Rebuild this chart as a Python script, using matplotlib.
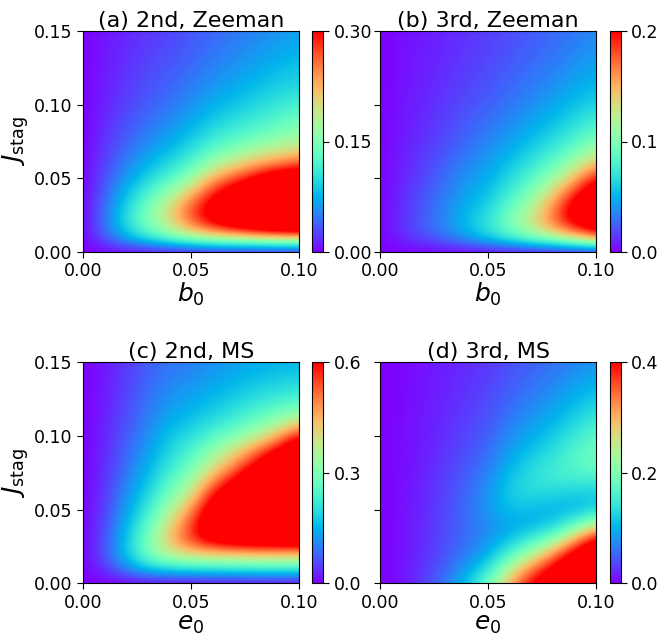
import numpy as np
import matplotlib
matplotlib.use("Agg")
import matplotlib.pyplot as plt

x_vals = np.round(np.arange(0, 0.101, 0.01), 3)   # b0 / e0
j_vals = np.round(np.arange(0, 0.151, 0.01), 3)   # J_stag

# each inner list is one x column, values from J=0 up to J=0.15
zeeman_2nd = [
    [0] * 16,
    [0, 0.035, 0.045, 0.042, 0.036, 0.03, 0.025, 0.021, 0.018, 0.015, 0.013, 0.012, 0.011, 0.01, 0.009, 0.008],
    [0, 0.075, 0.1, 0.095, 0.08, 0.064, 0.051, 0.042, 0.035, 0.03, 0.026, 0.023, 0.02, 0.018, 0.016, 0.015],
    [0, 0.11, 0.15, 0.145, 0.12, 0.095, 0.075, 0.061, 0.051, 0.043, 0.037, 0.032, 0.029, 0.026, 0.023, 0.021],
    [0, 0.14, 0.2, 0.2, 0.165, 0.125, 0.097, 0.078, 0.064, 0.054, 0.046, 0.04, 0.036, 0.032, 0.029, 0.026],
    [0, 0.17, 0.26, 0.27, 0.22, 0.165, 0.125, 0.1, 0.082, 0.069, 0.059, 0.051, 0.045, 0.04, 0.036, 0.033],
    [0, 0.19, 0.31, 0.33, 0.29, 0.23, 0.17, 0.13, 0.105, 0.087, 0.073, 0.063, 0.055, 0.049, 0.044, 0.04],
    [0, 0.2, 0.35, 0.38, 0.34, 0.27, 0.2, 0.15, 0.12, 0.1, 0.085, 0.073, 0.064, 0.057, 0.051, 0.046],
    [0, 0.21, 0.38, 0.42, 0.39, 0.31, 0.23, 0.17, 0.135, 0.112, 0.096, 0.083, 0.073, 0.065, 0.058, 0.052],
    [0, 0.22, 0.41, 0.46, 0.43, 0.35, 0.25, 0.185, 0.15, 0.125, 0.108, 0.094, 0.083, 0.074, 0.066, 0.06],
    [0, 0.22, 0.42, 0.48, 0.47, 0.36, 0.27, 0.2, 0.165, 0.143, 0.12, 0.1, 0.09, 0.08, 0.072, 0.065],
]

zeeman_3rd = [
    [0] * 16,
    [0, 0.01, 0.012, 0.011, 0.01, 0.009, 0.008, 0.007, 0.006, 0.006, 0.005, 0.005, 0.004, 0.004, 0.004, 0.004],
    [0, 0.02, 0.024, 0.023, 0.021, 0.018, 0.016, 0.014, 0.012, 0.011, 0.01, 0.009, 0.008, 0.008, 0.007, 0.007],
    [0, 0.03, 0.036, 0.035, 0.032, 0.028, 0.025, 0.021, 0.018, 0.016, 0.015, 0.013, 0.012, 0.011, 0.01, 0.01],
    [0, 0.045, 0.055, 0.05, 0.045, 0.04, 0.035, 0.03, 0.026, 0.023, 0.02, 0.018, 0.016, 0.015, 0.014, 0.013],
    [0, 0.062, 0.07, 0.062, 0.055, 0.048, 0.043, 0.038, 0.033, 0.029, 0.025, 0.022, 0.02, 0.018, 0.017, 0.016],
    [0, 0.08, 0.1, 0.09, 0.077, 0.065, 0.056, 0.048, 0.041, 0.036, 0.031, 0.028, 0.025, 0.023, 0.021, 0.019],
    [0, 0.1, 0.13, 0.12, 0.1, 0.085, 0.071, 0.06, 0.051, 0.044, 0.038, 0.034, 0.03, 0.027, 0.025, 0.023],
    [0, 0.12, 0.17, 0.165, 0.14, 0.11, 0.09, 0.074, 0.062, 0.053, 0.046, 0.04, 0.036, 0.032, 0.029, 0.027],
    [0, 0.14, 0.21, 0.22, 0.19, 0.15, 0.115, 0.092, 0.076, 0.064, 0.055, 0.048, 0.042, 0.038, 0.034, 0.031],
    [0, 0.17, 0.24, 0.26, 0.24, 0.2, 0.15, 0.115, 0.092, 0.076, 0.064, 0.055, 0.049, 0.044, 0.04, 0.037],
]

ms_2nd = [
    [0] * 16,
    [0, 0.04, 0.06, 0.058, 0.052, 0.046, 0.04, 0.036, 0.032, 0.029, 0.026, 0.024, 0.022, 0.02, 0.019, 0.018],
    [0, 0.11, 0.17, 0.165, 0.15, 0.13, 0.115, 0.1, 0.088, 0.078, 0.07, 0.063, 0.057, 0.052, 0.048, 0.045],
    [0, 0.18, 0.29, 0.29, 0.26, 0.22, 0.19, 0.165, 0.145, 0.128, 0.114, 0.102, 0.092, 0.084, 0.077, 0.071],
    [0, 0.2, 0.38, 0.44, 0.4, 0.35, 0.29, 0.25, 0.215, 0.19, 0.17, 0.145, 0.128, 0.114, 0.102, 0.092],
    [0, 0.21, 0.42, 0.56, 0.55, 0.48, 0.39, 0.33, 0.28, 0.24, 0.2, 0.17, 0.145, 0.128, 0.112, 0.1],
    [0, 0.22, 0.43, 0.66, 0.72, 0.68, 0.6, 0.48, 0.38, 0.32, 0.25, 0.2, 0.17, 0.148, 0.13, 0.115],
    [0, 0.22, 0.44, 0.7, 0.82, 0.8, 0.72, 0.61, 0.49, 0.4, 0.3, 0.235, 0.195, 0.168, 0.148, 0.13],
    [0, 0.23, 0.45, 0.72, 0.88, 0.92, 0.85, 0.75, 0.62, 0.5, 0.36, 0.28, 0.225, 0.188, 0.162, 0.14],
    [0, 0.23, 0.45, 0.73, 0.9, 0.98, 0.97, 0.88, 0.76, 0.62, 0.45, 0.33, 0.255, 0.205, 0.172, 0.148],
    [0, 0.23, 0.45, 0.74, 0.92, 1.0, 1.02, 0.96, 0.86, 0.74, 0.6, 0.39, 0.28, 0.22, 0.18, 0.155],
]

ms_3rd = [
    [0] * 16,
    [0.01, 0.009, 0.009, 0.008, 0.008, 0.008, 0.007, 0.007, 0.006, 0.006, 0.006, 0.005, 0.005, 0.005, 0.004, 0.004],
    [0.03, 0.026, 0.023, 0.022, 0.021, 0.02, 0.019, 0.018, 0.016, 0.015, 0.014, 0.013, 0.012, 0.011, 0.01, 0.01],
    [0.065, 0.05, 0.042, 0.04, 0.038, 0.036, 0.034, 0.032, 0.029, 0.027, 0.024, 0.022, 0.02, 0.018, 0.017, 0.016],
    [0.11, 0.085, 0.065, 0.058, 0.056, 0.056, 0.054, 0.05, 0.045, 0.04, 0.036, 0.032, 0.029, 0.026, 0.024, 0.022],
    [0.19, 0.135, 0.095, 0.078, 0.075, 0.082, 0.08, 0.072, 0.064, 0.056, 0.05, 0.044, 0.04, 0.036, 0.032, 0.029],
    [0.3, 0.24, 0.165, 0.11, 0.093, 0.11, 0.122, 0.115, 0.1, 0.087, 0.075, 0.065, 0.057, 0.05, 0.045, 0.04],
    [0.41, 0.33, 0.23, 0.15, 0.1, 0.105, 0.13, 0.138, 0.128, 0.112, 0.096, 0.083, 0.072, 0.063, 0.056, 0.05],
    [0.47, 0.42, 0.32, 0.2, 0.12, 0.1, 0.125, 0.15, 0.15, 0.135, 0.118, 0.102, 0.088, 0.077, 0.067, 0.059],
    [0.52, 0.5, 0.43, 0.3, 0.17, 0.105, 0.115, 0.15, 0.17, 0.165, 0.145, 0.125, 0.108, 0.093, 0.08, 0.07],
    [0.55, 0.55, 0.5, 0.42, 0.24, 0.13, 0.115, 0.155, 0.185, 0.19, 0.175, 0.155, 0.13, 0.11, 0.095, 0.08],
]

panels = [
    ("(a) 2nd, Zeeman", zeeman_2nd, 0.30, r"$b_0$", ["0.00", "0.15", "0.30"]),
    ("(b) 3rd, Zeeman", zeeman_3rd, 0.2, r"$b_0$", ["0.0", "0.1", "0.2"]),
    ("(c) 2nd, MS", ms_2nd, 0.6, r"$e_0$", ["0.0", "0.3", "0.6"]),
    ("(d) 3rd, MS", ms_3rd, 0.4, r"$e_0$", ["0.0", "0.2", "0.4"]),
]

fig = plt.figure(figsize=(6.59, 6.41), dpi=100)

W, H = 659.0, 641.0
ax_lefts = [82.7, 380.0]
cb_lefts = [312.3, 609.5]
ax_tops = [31.0, 362.3]
ax_w, ax_h = 216.0, 221.0
cb_w = 11.0

dx = x_vals[1] - x_vals[0]
dy = j_vals[1] - j_vals[0]
extent = [x_vals[0] - dx / 2, x_vals[-1] + dx / 2, j_vals[0] - dy / 2, j_vals[-1] + dy / 2]

for k, (title, cols, vmax, xlab, cbl) in enumerate(panels):
    r, c = divmod(k, 2)
    bottom = (H - ax_tops[r] - ax_h) / H
    ax = fig.add_axes([ax_lefts[c] / W, bottom, ax_w / W, ax_h / H])
    data = np.array(cols).T
    im = ax.imshow(data, origin="lower", extent=extent, aspect="auto",
                   cmap="rainbow", vmin=0, vmax=vmax, interpolation="bicubic")
    ax.set_xlim(0, 0.1)
    ax.set_ylim(0, 0.15)
    ax.set_xticks([0, 0.05, 0.1])
    ax.set_xticklabels(["0.00", "0.05", "0.10"])
    ax.set_yticks([0, 0.05, 0.1, 0.15])
    if c == 0:
        ax.set_yticklabels(["0.00", "0.05", "0.10", "0.15"])
        ax.set_ylabel(r"$J_{\rm stag}$", fontsize=18, labelpad=2)
    else:
        ax.set_yticklabels([])
    ax.tick_params(labelsize=12.5, length=4)
    ax.set_xlabel(xlab, fontsize=18, labelpad=0)
    ax.set_title(title, fontsize=16, pad=3)

    cax = fig.add_axes([cb_lefts[c] / W, bottom, cb_w / W, ax_h / H])
    cb = fig.colorbar(im, cax=cax, ticks=[0, vmax / 2, vmax])
    cb.ax.set_yticklabels(cbl)
    cb.ax.tick_params(labelsize=12.5, length=4)

fig.savefig("out.png", dpi=100)
